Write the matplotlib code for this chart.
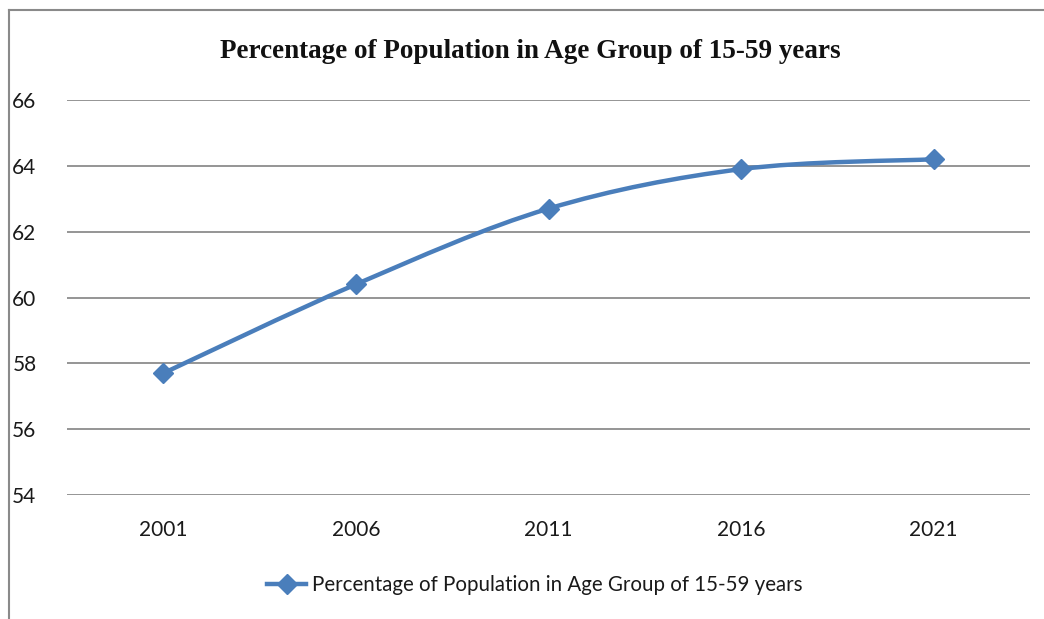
import numpy as np
import matplotlib.pyplot as plt
from matplotlib.path import Path
from matplotlib.patches import PathPatch
from matplotlib.lines import Line2D

years = ["2001", "2006", "2011", "2016", "2021"]
share = [57.7, 60.4, 62.7, 63.9, 64.2]
y_ticks = [54, 56, 58, 60, 62, 64, 66]

title = "Percentage of Population in Age Group of 15-59 years"
series_name = "Percentage of Population in Age Group of 15-59 years"

blue = "#4a7ebb"
grid_grey = "#8c8c8c"
label_font = ["Lato", "DejaVu Sans"]

fig = plt.figure(figsize=(10.44, 6.19), dpi=100)
W, H = 1044, 619
ax = fig.add_axes([67 / W, 1 - 495 / H, (1030 - 67) / W, (495 - 100) / H])

x = np.arange(len(years))
y = np.array(share)

# smoothed line: cubic bezier segments through each point (Catmull-Rom style)
pts = np.column_stack([x, y])
ext = np.vstack([pts[0], pts, pts[-1]])
verts = [tuple(pts[0])]
codes = [Path.MOVETO]
for i in range(len(pts) - 1):
    p0, p1, p2, p3 = ext[i], ext[i + 1], ext[i + 2], ext[i + 3]
    c1 = p1 + (p2 - p0) / 6
    c2 = p2 - (p3 - p1) / 6
    verts += [tuple(c1), tuple(c2), tuple(p2)]
    codes += [Path.CURVE4] * 3
ax.add_patch(PathPatch(Path(verts, codes), fill=False, edgecolor=blue,
                       lw=3.2, capstyle="round", joinstyle="round", zorder=3))
ax.plot(x, y, linestyle="none", marker="D", ms=10, color=blue, zorder=4)

ax.set_xlim(-0.5, len(years) - 0.5)
ax.set_ylim(54, 66)
ax.set_yticks(y_ticks)
ax.set_xticks(x)
ax.set_xticklabels(years)
ax.yaxis.grid(True, color=grid_grey, lw=1.3)
ax.set_axisbelow(True)
for s in ax.spines.values():
    s.set_visible(False)
ax.tick_params(length=0, labelsize=15, colors="#1a1a1a")
ax.tick_params(axis="y", pad=22)
ax.tick_params(axis="x", pad=18)
for lbl in ax.get_xticklabels() + ax.get_yticklabels():
    lbl.set_family(label_font)

fig.text(530 / W, 1 - 52 / H, title, ha="center", va="center",
         family=["Liberation Serif", "DejaVu Serif"], fontweight="bold",
         fontsize=19.5, color="#111111")

handle = Line2D([], [], color=blue, lw=3.2, marker="D", ms=10)
fig.legend([handle], [series_name], loc="center", bbox_to_anchor=(535 / W, 1 - 585 / H),
           frameon=False, prop={"family": label_font, "size": 14.8},
           handlelength=1.9, handletextpad=0.3, labelcolor="#1a1a1a")

# chart frame, top and left edges only
fig.add_artist(Line2D([9 / W, 1], [1 - 10 / H, 1 - 10 / H], color="#8a8a8a", lw=1.5))
fig.add_artist(Line2D([9 / W, 9 / W], [0, 1 - 10 / H], color="#8a8a8a", lw=1.5))

fig.savefig("out.png", dpi=100)
